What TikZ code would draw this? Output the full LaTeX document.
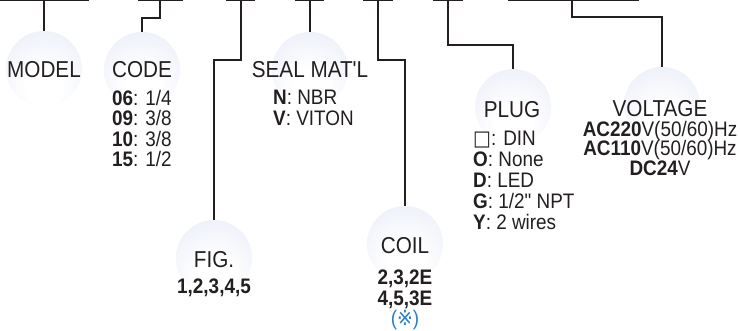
\documentclass[tikz,border=0pt]{standalone}
\usepackage{fontspec}
\setmainfont{Liberation Sans}[FakeStretch=0.9, Ligatures=TeXOff]
\newfontfamily\djv{DejaVu Sans}[FakeStretch=0.9]
\definecolor{ink}{HTML}{231F20}
\definecolor{bub}{HTML}{E1E5F5}
\definecolor{blu}{HTML}{2B7FC7}
\pgfdeclareradialshading{bubshade}{\pgfpoint{0bp}{-14bp}}{color(0bp)=(white); color(12bp)=(white); color(52bp)=(bub); color(75bp)=(bub)}
\tikzset{
  bubble/.style={circle, minimum size=76pt, inner sep=0pt, shading=bubshade},
  lbl/.style={font=\fontsize{23}{23}\selectfont, text=ink, inner sep=0pt, anchor=base},
  itm/.style={font=\fontsize{21}{21}\selectfont, text=ink, inner sep=0pt, anchor=base west},
  itc/.style={font=\fontsize{21}{21}\selectfont, text=ink, inner sep=0pt, anchor=base},
  wire/.style={draw=ink, line width=1.1pt}
}
\begin{document}
\begin{tikzpicture}[x=1pt,y=-1pt]
\useasboundingbox (0,0) rectangle (740,331);
% bubbles
\node[bubble] (cmodel) at (44,69) {};
\node[bubble] (ccode) at (142,70) {};
\node[bubble] (cseal) at (310,70) {};
\node[bubble] (cfig) at (214,258) {};
\node[bubble] (ccoil) at (405,244) {};
\node[bubble] (cplug) at (513,107) {};
\node[bubble] (cvolt) at (662,105) {};
% labels
\node[lbl] (lmodel) at (44,78) {MODEL};
\node[lbl] (lcode) at (142,78) {CODE};
\node[lbl] (lseal) at (310,78) {SEAL MAT'L};
\node[lbl] (lfig) at (214,268) {FIG.};
\node[lbl] (lcoil) at (405,254) {COIL};
\node[lbl] (lplug) at (512,118) {PLUG};
\node[lbl] (lvolt) at (660,117) {VOLTAGE};
% code list
\node[itm] (c1) at (112,105.5) {\textbf{06}: 1/4};
\node[itm] (c2) at (112,126) {\textbf{09}: 3/8};
\node[itm] (c3) at (112,146.5) {\textbf{10}: 3/8};
\node[itm] (c4) at (112,167) {\textbf{15}: 1/2};
% seal list
\node[itm] (s1) at (273,104.5) {\textbf{N}: NBR};
\node[itm] (s2) at (273,125.5) {\textbf{V}: VITON};
% fig
\node[itc] (f1) at (214,293.5) {\textbf{1,2,3,4,5}};
% coil
\node[itc] (k1) at (405,284.5) {\textbf{2,3,2E}};
\node[itc] (k2) at (405,306) {\textbf{4,5,3E}};
\node[itc, text=blu] (k3) at (405,325.5) {({\djv ※})};
% plug list
\node[itm] (p1) at (473,145.5) {{\djv □}: DIN};
\node[itm] (p2) at (473,167) {\textbf{O}: None};
\node[itm] (p3) at (473,188) {\textbf{D}: LED};
\node[itm] (p4) at (473,209) {\textbf{G}: 1/2" NPT};
\node[itm] (p5) at (473,229.5) {\textbf{Y}: 2 wires};
% voltage list
\node[itc] (v1) at (660,136.5) {\textbf{AC220}V(50/60)Hz};
\node[itc] (v2) at (660,155.5) {\textbf{AC110}V(50/60)Hz};
\node[itc] (v3) at (660,176) {\textbf{DC24}V};
% top bars
\coordinate (bm0) at (0,0.55);   \coordinate (bm1) at (89,0.55);
\coordinate (bc0) at (138,0.55); \coordinate (bc1) at (183,0.55);
\coordinate (bf0) at (226,0.55); \coordinate (bf1) at (255,0.55);
\coordinate (bs0) at (295,0.55); \coordinate (bs1) at (324,0.55);
\coordinate (bk0) at (363,0.55); \coordinate (bk1) at (393,0.55);
\coordinate (bp0) at (433,0.55); \coordinate (bp1) at (463,0.55);
\coordinate (bv0) at (508,0.55); \coordinate (bv1) at (639,0.55);
\draw[wire] (bm0) -- (bm1);
\draw[wire] (bc0) -- (bc1);
\draw[wire] (bf0) -- (bf1);
\draw[wire] (bs0) -- (bs1);
\draw[wire] (bk0) -- (bk1);
\draw[wire] (bp0) -- (bp1);
\draw[wire] (bv0) -- (bv1);
% connectors
\coordinate (tm) at (44,0);
\coordinate (tc) at (160,0);
\coordinate (tf) at (241,0);
\coordinate (ts) at (310,0);
\coordinate (tk) at (378,0);
\coordinate (tp) at (448,0);
\coordinate (tv) at (572,0);
\draw[wire] (tm) -- (cmodel.north);
\draw[wire] (tc) -- (160,18) -- (142,18) -- (ccode.north);
\draw[wire] (ts) -- (cseal.north);
\draw[wire] (tf) -- (241,60) -- (214,60) -- (cfig.north);
\draw[wire] (tk) -- (378,60) -- (405,60) -- (ccoil.north);
\draw[wire] (tp) -- (448,45) -- (513,45) -- (cplug.north);
\draw[wire] (tv) -- (572,17) -- (662,17) -- (cvolt.north);
\end{tikzpicture}
\end{document}
